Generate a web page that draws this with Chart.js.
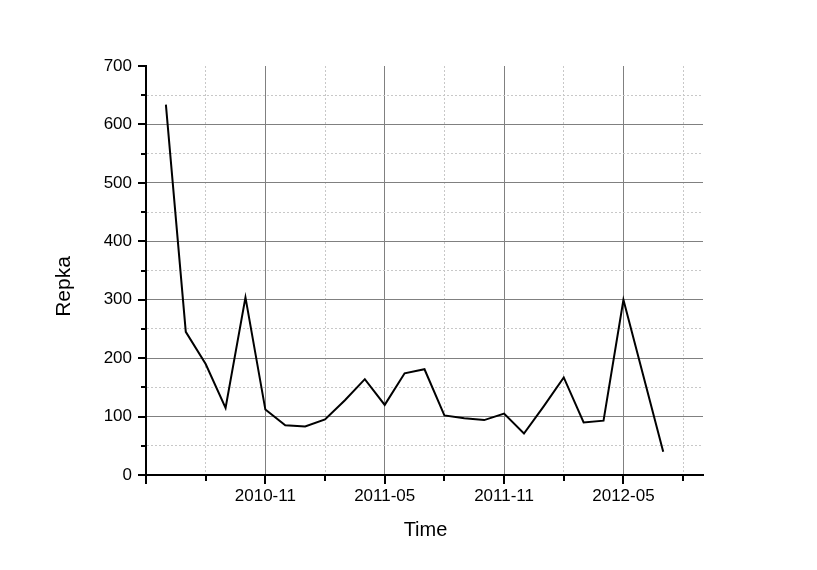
<!DOCTYPE html>
<html><head><meta charset="utf-8">
<script src="https://cdn.jsdelivr.net/npm/chart.js@4.4.1/dist/chart.umd.min.js"></script>
<style>html,body{margin:0;padding:0;background:#fff}canvas{display:block}</style>
</head><body>
<canvas id="c" width="817" height="570"></canvas>
<script>
// ---- data ----
const months = ['2010-06','2010-07','2010-08','2010-09','2010-10','2010-11','2010-12',
  '2011-01','2011-02','2011-03','2011-04','2011-05','2011-06','2011-07','2011-08','2011-09','2011-10','2011-11','2011-12',
  '2012-01','2012-02','2012-03','2012-04','2012-05','2012-06','2012-07'];
const repka = [634,245,190,115,304,112,85,
  83,95,128,164,120,174,181,102,97,94,105,71,
  118,167,90,93,300,170,40];
const xStart = '2010-05';
const xEnd = '2012-09';
const xTickMonths = ['2010-05','2010-08','2010-11','2011-02','2011-05','2011-08','2011-11','2012-02','2012-05','2012-08'];
const xLabelMonths = ['2010-11','2011-05','2011-11','2012-05'];
const yTickValues = [0,50,100,150,200,250,300,350,400,450,500,550,600,650,700];
const yLabelValues = [0,100,200,300,400,500,600,700];
const xTitle = 'Time';
const yTitle = 'Repka';

// ---- helpers ----
function mIdx(s){ const p = s.split('-').map(Number); const b = xStart.split('-').map(Number); return (p[0]*12+p[1]) - (b[0]*12+b[1]); }
function mStr(i){ const b = xStart.split('-').map(Number); const t = b[0]*12 + (b[1]-1) + i; const y = Math.floor(t/12), m = t%12 + 1; return y + '-' + (m<10?'0':'') + m; }
const majorX = new Set(xLabelMonths.map(mIdx).concat([0]));
const points = months.map((m,i)=>({x:mIdx(m), y:repka[i]}));
const FONT = '"Liberation Sans", Arial, sans-serif';

const axisDeco = {
  id:'axisDeco',
  afterDraw(chart){
    const ctx = chart.ctx, xs = chart.scales.x, ys = chart.scales.y, a = chart.chartArea;
    ctx.save();
    ctx.strokeStyle = '#000'; ctx.lineWidth = 2;
    xs.ticks.forEach(t=>{
      const px = Math.round(xs.getPixelForValue(t.value));
      const len = majorX.has(t.value) ? 9 : 6;
      ctx.beginPath(); ctx.moveTo(px, a.bottom); ctx.lineTo(px, a.bottom + len); ctx.stroke();
    });
    ys.ticks.forEach(t=>{
      const py = Math.round(ys.getPixelForValue(t.value));
      const len = yLabelValues.includes(t.value) ? 8 : 5;
      ctx.beginPath(); ctx.moveTo(a.left, py); ctx.lineTo(a.left - len, py); ctx.stroke();
    });
    ctx.fillStyle = '#000';
    ctx.font = '20px ' + FONT;
    ctx.textAlign = 'center'; ctx.textBaseline = 'alphabetic';
    ctx.fillText(xTitle, (a.left + a.right)/2 + 1, 536);
    ctx.translate(70, (a.top + a.bottom)/2 + 16);
    ctx.rotate(-Math.PI/2);
    ctx.font = '21px ' + FONT;
    ctx.fillText(yTitle, 0, 0);
    ctx.restore();
  }
};

new Chart(document.getElementById('c'), {
  type:'line',
  data:{ datasets:[{ data: points, borderColor:'#000', borderWidth:2, pointRadius:0, tension:0, fill:false }] },
  options:{
    responsive:false, animation:false,
    layout:{ padding:{ top:66, right:114, left:0, bottom:0 } },
    plugins:{ legend:{display:false}, tooltip:{enabled:false} },
    scales:{
      x:{
        type:'linear', min: mIdx(xStart), max: mIdx(xEnd),
        afterBuildTicks: s => { s.ticks = xTickMonths.map(m=>({value:mIdx(m)})); },
        afterFit: s => { s.height = 95; },
        ticks:{ autoSkip:false, maxRotation:0, padding:11, color:'#000', font:{family:FONT, size:17},
          callback: v => xLabelMonths.includes(mStr(v)) ? mStr(v) : '' },
        grid:{ drawTicks:false, lineWidth:1,
          color: c => (c.tick && c.tick.value !== 0) ? (majorX.has(c.tick.value) ? '#808080' : '#c8c8c8') : 'rgba(0,0,0,0)' },
        border:{ display:true, color:'#000', width:2,
          dash: c => (c.tick && !majorX.has(c.tick.value)) ? [2,2] : [] }
      },
      y:{
        type:'linear', min:0, max:700,
        afterBuildTicks: s => { s.ticks = yTickValues.map(v=>({value:v})); },
        afterFit: s => { s.width = 146; },
        ticks:{ autoSkip:false, padding:14, color:'#000', font:{family:FONT, size:17},
          callback: v => yLabelValues.includes(v) ? String(v) : '' },
        grid:{ drawTicks:false, lineWidth:1,
          color: c => (c.tick && c.tick.value !== 0 && c.tick.value !== 700) ? (yLabelValues.includes(c.tick.value) ? '#808080' : '#c8c8c8') : 'rgba(0,0,0,0)' },
        border:{ display:true, color:'#000', width:2,
          dash: c => (c.tick && !yLabelValues.includes(c.tick.value)) ? [2,2] : [] }
      }
    }
  },
  plugins:[axisDeco]
});
</script>
</body></html>
